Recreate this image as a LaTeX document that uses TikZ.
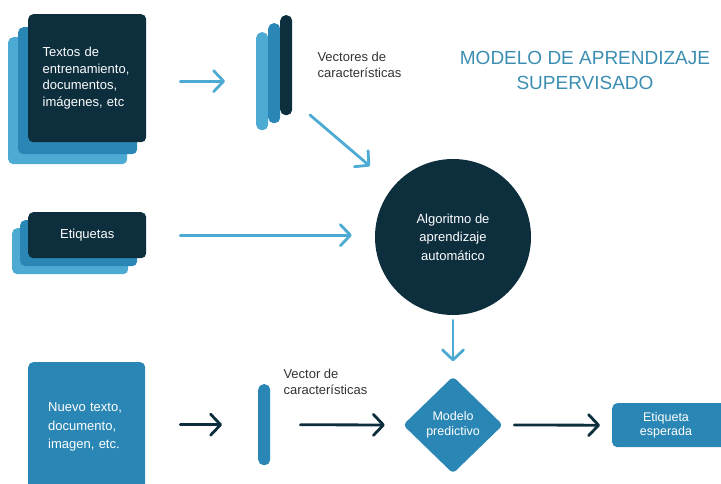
\documentclass[tikz,border=0pt]{standalone}
\usepackage{fontspec}
\setmainfont{Liberation Sans}
\usetikzlibrary{arrows.meta,shapes.geometric,positioning}
\definecolor{navy}{HTML}{0C2E3D}
\definecolor{midblue}{HTML}{2A86B4}
\definecolor{lightblue}{HTML}{4DAAD2}
\definecolor{titleblue}{HTML}{3B8EB2}
\definecolor{labelgray}{HTML}{333333}

\tikzset{
  card/.style={rounded corners=5pt, inner sep=0pt, anchor=north west},
  bar/.style={rounded corners=5.5pt, inner sep=0pt, anchor=north west,
    minimum width=12pt},
  boxtext/.style={text=white, font=\fontsize{13}{16.7}\selectfont},
  caption/.style={text=labelgray, align=left, anchor=west,
    font=\fontsize{13}{16.5}\selectfont},
  arrlight/.style={draw=lightblue, line width=2.8pt, line cap=round,
    -{Straight Barb[round, length=10pt, width=21pt]}},
  arrdark/.style={draw=navy, line width=2.8pt, line cap=round,
    -{Straight Barb[round, length=10pt, width=21pt]}}
}

\begin{document}
\begin{tikzpicture}[x=1pt, y=-1pt]
\useasboundingbox (0,0) rectangle (721,484);
\clip (0,0) rectangle (721,484);

% training data stack
\node[card, fill=lightblue, minimum width=119pt, minimum height=127pt] (t3) at (8,37) {};
\node[card, fill=midblue, minimum width=119pt, minimum height=127pt] (t2) at (18,27) {};
\node[card, fill=navy, boxtext, minimum width=118pt, minimum height=128pt,
  text width=89pt, inner xsep=14.5pt, align=left] (t1) at (28,14)
  {Textos de\\entrenamiento,\\documentos,\\imágenes, etc};

% feature vectors
\node[bar, fill=lightblue, minimum height=98pt] (v3) at (256,32) {};
\node[bar, fill=midblue, minimum height=100pt] (v2) at (268,23) {};
\node[bar, fill=navy, minimum height=100pt] (v1) at (280,15) {};
\node[caption] (vlab) at (314,65) {Vectores de\\características};

% title
\node[text=titleblue, align=center, font=\fontsize{19}{25}\selectfont]
  (title) at (585,70) {MODELO DE APRENDIZAJE\\SUPERVISADO};

% labels stack
\node[card, fill=lightblue, minimum width=116pt, minimum height=46pt] (e3) at (12,228) {};
\node[card, fill=midblue, minimum width=117pt, minimum height=46pt] (e2) at (20,220) {};
\node[card, fill=navy, boxtext, minimum width=118pt, minimum height=46pt] (e1) at (28,212) {Etiquetas};

% learning algorithm
\node[circle, fill=navy, boxtext, minimum size=156pt, inner sep=0pt, align=center,
  font=\fontsize{13}{18.5}\selectfont] (alg) at (453,237)
  {Algoritmo de\\aprendizaje\\automático};

% prediction row
\node[card, fill=midblue, boxtext, minimum width=117pt, minimum height=130pt,
  text width=77pt, inner xsep=20pt, align=left, font=\fontsize{13}{18.5}\selectfont]
  (nv) at (28,362) {Nuevo texto,\\documento,\\imagen, etc.};
\node[bar, fill=midblue, minimum height=81pt] (vb) at (258,384) {};
\node[caption] (vblab) at (280,382) {Vector de\\características};
\node[diamond, fill=midblue, boxtext, rounded corners=4pt, minimum width=100pt,
  minimum height=97pt, inner sep=0pt, align=center,
  font=\fontsize{12.5}{15}\selectfont] (mod) at (453,425) {Modelo\\predictivo};
\node[card, fill=midblue, minimum width=118pt, minimum height=44pt] (out) at (612,403) {};
\node[boxtext, align=center, font=\fontsize{12.5}{14}\selectfont]
  (outlab) at (666,425) {Etiqueta\\esperada};

% connectors
\coordinate (vfoot) at (310,115);
\draw[arrlight, shorten <=34pt, shorten >=31pt] (t1.east |- v3.west) -- (v3.west);
\draw[arrlight, shorten >=31pt] (vfoot) -- (alg);
\draw[arrlight, shorten <=34pt, shorten >=23pt] (e1.east) -- (alg.west |- e1.east);
\draw[arrlight, shorten <=5pt, shorten >=15pt] (alg.south) -- (mod.north);
\draw[arrdark, shorten <=35pt, shorten >=36pt] (nv.east |- vb.west) -- (vb.west);
\draw[arrdark, shorten <=30pt, shorten >=18pt] (vb.east) -- (mod.west);
\draw[arrdark, shorten <=11pt, shorten >=12pt] (mod.east) -- (out.west);
\end{tikzpicture}
\end{document}
